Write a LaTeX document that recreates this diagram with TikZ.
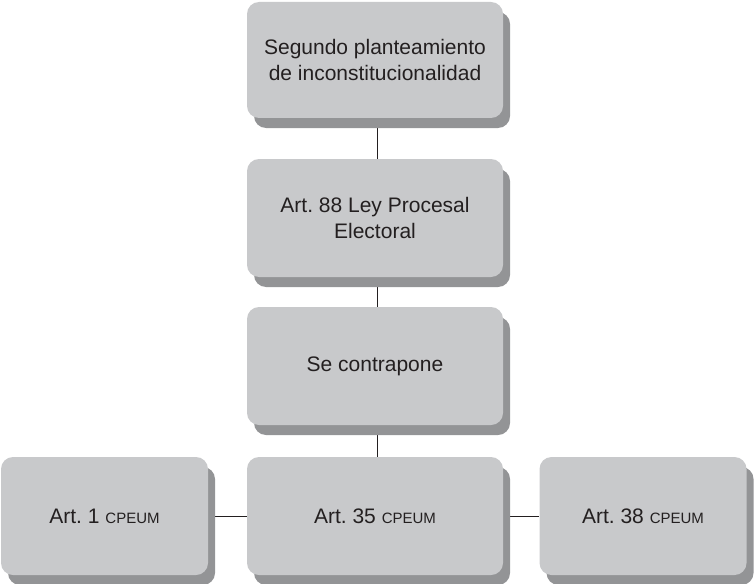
\documentclass[tikz,border=0pt]{standalone}
\usepackage{fontspec}
\setmainfont{Liberation Sans}
\usetikzlibrary{shadows,backgrounds}
\definecolor{boxfill}{HTML}{C8C9CB}
\definecolor{boxshade}{HTML}{939496}
\definecolor{inkdark}{HTML}{231F20}
\newcommand{\smc}[1]{{\fontsize{15}{18}\selectfont #1}}
\frenchspacing
\tikzset{
  card/.style={rectangle, rounded corners=12pt, fill=boxfill, draw=none,
    minimum height=118pt, text=inkdark, align=center,
    font=\fontsize{21}{26}\selectfont,
    drop shadow={shadow xshift=7pt, shadow yshift=-10pt, fill=boxshade, opacity=1}},
  widecard/.style={card, minimum width=256pt},
  sidecard/.style={card, minimum width=207pt},
  link/.style={draw=inkdark, line width=0.8pt}
}
\begin{document}
\begin{tikzpicture}[x=1pt,y=-1pt]
  \useasboundingbox (0,0) rectangle (754,583);
  \node[widecard, minimum height=116pt] (plan) at (375,60) {Segundo planteamiento\\de inconstitucionalidad};
  \node[widecard] (ley) at (375,218) {Art. 88 Ley Procesal\\Electoral};
  \node[widecard] (contra) at (375,366) {Se contrapone};
  \node[widecard] (a35) at (375,516) {Art. 35 \smc{CPEUM}};
  \node[sidecard] (a1) at (104.5,516) {Art. 1 \smc{CPEUM}};
  \node[sidecard] (a38) at (643,516) {Art. 38 \smc{CPEUM}};
  \begin{scope}[on background layer]
    \draw[link] ([xshift=2pt]plan.south) -- ([xshift=2pt]ley.north);
    \draw[link] ([xshift=2pt]ley.south) -- ([xshift=2pt]contra.north);
    \draw[link] ([xshift=2pt]contra.south) -- ([xshift=2pt]a35.north);
    \draw[link] (a1.east) -- (a35.west);
    \draw[link] (a35.east) -- (a38.west);
  \end{scope}
\end{tikzpicture}
\end{document}
